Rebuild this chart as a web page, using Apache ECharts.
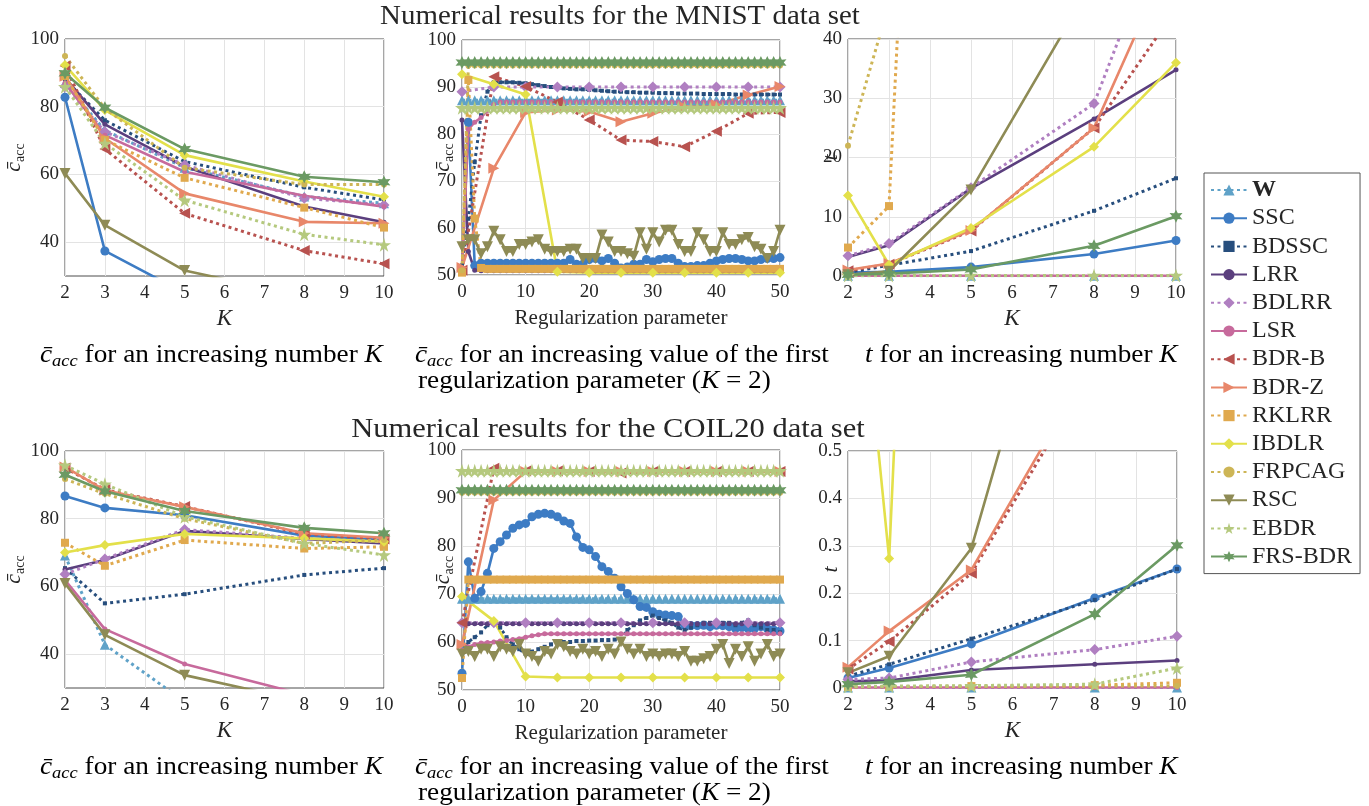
<!DOCTYPE html>
<html>
<head>
<meta charset="utf-8">
<title>Numerical results for the MNIST and COIL20 data sets</title>
<script src="https://cdn.jsdelivr.net/npm/echarts@6/dist/echarts.min.js"></script>
<style>
  html, body { margin: 0; padding: 0; background: #fff; }
  #chart { width: 1369px; height: 806px; }
</style>
</head>
<body>
<div id="chart"></div>
<script>
// methods, in legend order
const methods = ['W', 'SSC', 'BDSSC', 'LRR', 'BDLRR', 'LSR', 'BDR-B', 'BDR-Z',
  'RKLRR', 'IBDLR', 'FRPCAG', 'RSC', 'EBDR', 'FRS-BDR'];

// x values
const kValues = [2, 3, 5, 8, 10];
const paramAll = [0, 1, 2, 3, 4, 5, 6, 7, 8, 9, 10, 11, 12, 13, 14, 15, 16, 17, 18, 19,
  20, 21, 22, 23, 24, 25, 26, 27, 28, 29, 30, 31, 32, 33, 34, 35, 36, 37, 38, 39,
  40, 41, 42, 43, 44, 45, 46, 47, 48, 49, 50];
const paramStep5 = [0, 5, 10, 15, 20, 25, 30, 35, 40, 45, 50];

// tick labels shown on the accuracy-vs-K panels
const accTicks = [40, 60, 80, 100];

// MNIST, accuracy vs K (one row per method)
const mnistAccK = [
  [87, 73, 62, 53.5, 51.5],
  [82.8, 37.4, 25, 20, 18],
  [88, 76, 63.8, 56.2, 52.5],
  [88.5, 74.8, 62.3, 50.5, 45.9],
  [86, 72.6, 62.8, 53, 51],
  [87, 71.6, 60.8, 53.7, 50.5],
  [92, 67.5, 48.5, 37.5, 33.6],
  [89, 70.7, 54.4, 46, 45.6],
  [89, 70.2, 59, 50.2, 44.3],
  [92.3, 79, 65.7, 57.9, 53.4],
  [95, 79.5, 62, 57, 57],
  [60.3, 45, 31.6, 24, 21],
  [85.9, 69.2, 52.4, 42.3, 39.2],
  [89.9, 79.7, 67.5, 59.3, 57.7]
];

// MNIST, accuracy vs regularization parameter (51 values -> every integer, 11 -> steps of 5)
const mnistAccParam = [
  [87.2, 87.2, 87.2, 87.2, 87.2, 87.2, 87.2, 87.2, 87.2, 87.2,
   87.2, 87.2, 87.2, 87.2, 87.2, 87.2, 87.2, 87.2, 87.2, 87.2,
   87.2, 87.2, 87.2, 87.2, 87.2, 87.2, 87.2, 87.2, 87.2, 87.2,
   87.2, 87.2, 87.2, 87.2, 87.2, 87.2, 87.2, 87.2, 87.2, 87.2,
   87.2, 87.2, 87.2, 87.2, 87.2, 87.2, 87.2, 87.2, 87.2, 87.2, 87.2],
  [51, 82.5, 52, 52.5, 52.5, 52.5, 52.5, 52.5, 52.5, 52.5,
   52.5, 52.5, 52.5, 52.5, 52.5, 52.5, 52.5, 53.3, 52.3, 52.3,
   53.3, 53.5, 53, 53.5, 52.5, 51.5, 51.7, 52.3, 52.3, 53.3,
   52.8, 53.3, 53.5, 53.5, 52.5, 51.8, 51.8, 52, 52, 52.5,
   53, 53.3, 53.5, 53.5, 53.3, 53, 53, 53.3, 53.5, 53.5, 53.7],
  [52, 62, 74, 84, 89, 91, 91, 91, 91, 90.9,
   90.8, 90.6, 90.4, 90.2, 90, 89.8, 89.7, 89.6, 89.5, 89.5,
   89.4, 89.3, 89.2, 89.1, 89, 89, 88.9, 88.9, 88.8, 88.8,
   88.8, 88.7, 88.7, 88.7, 88.6, 88.6, 88.6, 88.6, 88.5, 88.5,
   88.5, 88.5, 88.5, 88.4, 88.4, 88.4, 88.4, 88.4, 88.4, 88.4, 88.4],
  [83, 55, 51, 50.9, 50.9, 50.9, 50.9, 50.9, 50.9, 50.9,
   50.9, 50.9, 50.9, 50.9, 50.9, 50.9, 50.9, 50.9, 50.9, 50.9,
   50.9, 50.9, 50.9, 50.9, 50.9, 50.9, 50.9, 50.9, 50.9, 50.9,
   50.9, 50.9, 50.9, 50.9, 50.9, 50.9, 50.9, 50.9, 50.9, 50.9,
   50.9, 50.9, 50.9, 50.9, 50.9, 50.9, 50.9, 50.9, 50.9, 50.9, 50.9],
  [89, 90, 90, 90, 90, 90, 90, 90, 90, 90, 90],
  [51, 81, 82.5, 83.5, 85, 86.3, 86.8, 86.8, 86.8, 86.8,
   86.8, 86.8, 86.8, 86.8, 86.8, 86.8, 86.8, 86.8, 86.8, 86.8,
   86.8, 86.8, 86.8, 86.8, 86.8, 86.8, 86.8, 86.8, 86.8, 86.8,
   86.8, 86.8, 86.8, 86.8, 86.8, 86.8, 86.8, 86.8, 86.8, 86.8,
   86.8, 86.8, 86.8, 86.8, 86.8, 86.8, 86.8, 86.8, 86.8, 86.8, 86.8],
  [51, 92.2, 90.1, 86.8, 83, 78.7, 78.4, 77.3, 80.6, 84.4, 84.6],
  [51.6, 72.7, 84.6, 85.1, 84.8, 82.6, 84.4, 85.8, 86.2, 88.3, 90.1],
  [50.5, 91.5, 62, 51.5, 51.3, 51.3, 51.3, 51.3, 51.3, 51.3,
   51.3, 51.3, 51.3, 51.3, 51.3, 51.3, 51.3, 51.3, 51.3, 51.3,
   51.3, 51.3, 51.3, 51.3, 51.3, 51.3, 51.3, 51.3, 51.3, 51.3,
   51.3, 51.3, 51.3, 51.3, 51.3, 51.3, 51.3, 51.3, 51.3, 51.3,
   51.3, 51.3, 51.3, 51.3, 51.3, 51.3, 51.3, 51.3, 51.3, 51.3, 51.3],
  [92.7, 90.6, 88.4, 50.7, 50.5, 50.5, 50.5, 50.5, 50.5, 50.5, 50.5],
  [51, 94.6, 94.6, 94.6, 94.6, 94.6, 94.6, 94.6, 94.6, 94.6,
   94.6, 94.6, 94.6, 94.6, 94.6, 94.6, 94.6, 94.6, 94.6, 94.6,
   94.6, 94.6, 94.6, 94.6, 94.6, 94.6, 94.6, 94.6, 94.6, 94.6,
   94.6, 94.6, 94.6, 94.6, 94.6, 94.6, 94.6, 94.6, 94.6, 94.6,
   94.6, 94.6, 94.6, 94.6, 94.6, 94.6, 94.6, 94.6, 94.6, 94.6, 94.6],
  [56, 57.5, 57.5, 54.5, 56, 59.3, 57.5, 55, 55, 56.5,
   56.5, 57, 57.5, 55.5, 55, 55, 55, 55.5, 55.5, 53.5,
   53.5, 53.5, 58.5, 57, 55, 55, 54.5, 54, 59, 55.5,
   59, 57, 59.5, 59.5, 56.5, 55, 55, 59, 57.5, 55,
   55, 59, 56.5, 56.5, 57.5, 58, 56, 55.5, 53.5, 55, 59.5],
  [85.6, 85.6, 85.6, 85.6, 85.6, 85.6, 85.6, 85.6, 85.6, 85.6,
   85.6, 85.6, 85.6, 85.6, 85.6, 85.6, 85.6, 85.6, 85.6, 85.6,
   85.6, 85.6, 85.6, 85.6, 85.6, 85.6, 85.6, 85.6, 85.6, 85.6,
   85.6, 85.6, 85.6, 85.6, 85.6, 85.6, 85.6, 85.6, 85.6, 85.6,
   85.6, 85.6, 85.6, 85.6, 85.6, 85.6, 85.6, 85.6, 85.6, 85.6, 85.6],
  [95.2, 95.2, 95.2, 95.2, 95.2, 95.2, 95.2, 95.2, 95.2, 95.2,
   95.2, 95.2, 95.2, 95.2, 95.2, 95.2, 95.2, 95.2, 95.2, 95.2,
   95.2, 95.2, 95.2, 95.2, 95.2, 95.2, 95.2, 95.2, 95.2, 95.2,
   95.2, 95.2, 95.2, 95.2, 95.2, 95.2, 95.2, 95.2, 95.2, 95.2,
   95.2, 95.2, 95.2, 95.2, 95.2, 95.2, 95.2, 95.2, 95.2, 95.2, 95.2]
];

// MNIST, time vs K
const mnistTimeK = [
  [0.05, 0.05, 0.05, 0.05, 0.05],
  [0.6, 0.7, 1.5, 3.7, 6],
  [0.6, 1.8, 4.2, 11, 16.5],
  [3.2, 5.2, 14.8, 26.5, 34.8],
  [3.4, 5.5, 14.9, 29.1, 65],
  [0.05, 0.05, 0.05, 0.05, 0.05],
  [0.9, 2, 7.6, 25, 45],
  [1, 2.1, 7.7, 25, 56],
  [4.8, 11.8, 290, 1000, 2000],
  [13.6, 1.9, 8.1, 21.8, 36],
  [22, 46, 200, 800, 1500],
  [0.2, 0.8, 14.5, 50, 90],
  [0.1, 0.1, 0.1, 0.1, 0.1],
  [0.2, 0.4, 1.1, 5.1, 10.1]
];

// COIL20, accuracy vs K
const coilAccK = [
  [69.1, 42.8, 26, 20, 18],
  [86.7, 83.2, 81, 75, 73.7],
  [65.4, 55, 57.7, 63.4, 65.4],
  [65, 67.8, 76.4, 74, 72.7],
  [63.6, 68.1, 76.8, 74.2, 73.2],
  [61.9, 47.4, 37.1, 28, 24],
  [95, 88.6, 83.6, 75.5, 74],
  [95.3, 88.4, 83.5, 75.7, 74.4],
  [72.9, 66.1, 73.7, 71.2, 71.7],
  [70, 72.2, 75.5, 74.2, 73.2],
  [91.7, 87.4, 80, 72.7, 73.7],
  [60.9, 45.7, 33.8, 26, 23],
  [95.8, 90.2, 80.6, 72.7, 69.3],
  [93, 88.1, 82.3, 77.3, 75.7]
];

// COIL20, accuracy vs regularization parameter
const coilAccParam = [
  [69, 69, 69, 69, 69, 69, 69, 69, 69, 69,
   69, 69, 69, 69, 69, 69, 69, 69, 69, 69,
   69, 69, 69, 69, 69, 69, 69, 69, 69, 69,
   69, 69, 69, 69, 69, 69, 69, 69, 69, 69,
   69, 69, 69, 69, 69, 69, 69, 69, 69, 69, 69],
  [53.5, 76.7, 69.1, 70.5, 74.3, 79.5, 80.9, 82.3, 83.7, 84.4,
   84.7, 86.1, 86.6, 86.8, 86.6, 86.1, 85.2, 84.7, 81.9, 79.7,
   79.2, 77.8, 75.7, 74.7, 73.3, 71.5, 70.1, 68.8, 67.4, 67.2,
   66.3, 65.8, 65.6, 65.5, 65.3, 63.5, 63.4, 63.4, 63.5, 63.2,
   63.5, 63.4, 63.2, 62.8, 63, 62.8, 62.8, 63.2, 62.8, 62.5, 62.3],
  [58, 60, 61, 62, 63.5, 64.5, 63, 61, 59.5, 58.5,
   57.5, 58, 58.5, 59, 59.5, 60, 60, 60, 60.2, 60.2,
   60.3, 60.3, 60.4, 60.4, 60.5, 60.5, 62.5, 63.5, 64.5, 65,
   65.5, 65, 64.5, 64, 63, 62.5, 63, 63.5, 64, 64,
   64, 64, 64, 63.5, 64, 64.5, 63.5, 63, 62.5, 62.5, 62],
  [63.8, 63.8, 63.8, 63.8, 63.8, 63.8, 63.8, 63.8, 63.8, 63.8,
   63.8, 63.8, 63.8, 63.8, 63.8, 63.8, 63.8, 63.8, 63.8, 63.8,
   63.8, 63.8, 63.8, 63.8, 63.8, 63.8, 63.8, 63.8, 63.8, 63.8,
   63.8, 63.8, 63.8, 63.8, 63.8, 63.8, 63.8, 63.8, 63.8, 63.8,
   63.8, 63.8, 63.8, 63.8, 63.8, 63.8, 63.8, 63.8, 63.8, 63.8, 63.8],
  [64, 64, 64, 64, 64, 64, 64, 64, 64, 64, 64],
  [58.3, 59, 59.5, 59.8, 59.9, 60, 60.2, 60.3, 60.5, 60.7,
   61, 61.3, 61.5, 61.7, 61.7, 61.7, 61.7, 61.7, 61.7, 61.7,
   61.7, 61.7, 61.7, 61.7, 61.7, 61.7, 61.7, 61.7, 61.7, 61.7,
   61.7, 61.7, 61.7, 61.7, 61.7, 61.7, 61.7, 61.7, 61.7, 61.7,
   61.7, 61.7, 61.7, 61.7, 61.7, 61.7, 61.7, 61.7, 61.7, 61.7, 61.7],
  [64, 96.2, 95.6, 95.6, 95.5, 95.2, 95.5, 95.5, 95.5, 95.5, 95.5],
  [59.5, 89.6, 95.5, 95.5, 95.5, 95.5, 95.5, 95.5, 95.5, 95.5, 95.5],
  [52.5, 73, 73, 73, 73, 73, 73, 73, 73, 73,
   73, 73, 73, 73, 73, 73, 73, 73, 73, 73,
   73, 73, 73, 73, 73, 73, 73, 73, 73, 73,
   73, 73, 73, 73, 73, 73, 73, 73, 73, 73,
   73, 73, 73, 73, 73, 73, 73, 73, 73, 73, 73],
  [69.5, 64.4, 52.8, 52.6, 52.6, 52.6, 52.6, 52.6, 52.6, 52.6, 52.6],
  [91.1, 91.1, 91.1, 91.1, 91.1, 91.1, 91.1, 91.1, 91.1, 91.1,
   91.1, 91.1, 91.1, 91.1, 91.1, 91.1, 91.1, 91.1, 91.1, 91.1,
   91.1, 91.1, 91.1, 91.1, 91.1, 91.1, 91.1, 91.1, 91.1, 91.1,
   91.1, 91.1, 91.1, 91.1, 91.1, 91.1, 91.1, 91.1, 91.1, 91.1,
   91.1, 91.1, 91.1, 91.1, 91.1, 91.1, 91.1, 91.1, 91.1, 91.1, 91.1],
  [57.5, 58, 57, 58.5, 58.5, 57, 59, 58.5, 58, 59.5,
   57.5, 57, 56, 58, 57.5, 59.5, 59, 58, 57.5, 58.5,
   57.5, 58, 57, 58.5, 57.5, 60, 58.5, 57.5, 58.5, 57,
   57.5, 57, 57.5, 57.5, 57, 58, 56, 56, 56.5, 57,
   58.5, 59.5, 55.5, 58.5, 57, 59, 56, 57.5, 59.5, 57, 57.5],
  [95.7, 95.7, 95.7, 95.7, 95.7, 95.7, 95.7, 95.7, 95.7, 95.7,
   95.7, 95.7, 95.7, 95.7, 95.7, 95.7, 95.7, 95.7, 95.7, 95.7,
   95.7, 95.7, 95.7, 95.7, 95.7, 95.7, 95.7, 95.7, 95.7, 95.7,
   95.7, 95.7, 95.7, 95.7, 95.7, 95.7, 95.7, 95.7, 95.7, 95.7,
   95.7, 95.7, 95.7, 95.7, 95.7, 95.7, 95.7, 95.7, 95.7, 95.7, 95.7],
  [91.6, 91.6, 91.6, 91.6, 91.6, 91.6, 91.6, 91.6, 91.6, 91.6,
   91.6, 91.6, 91.6, 91.6, 91.6, 91.6, 91.6, 91.6, 91.6, 91.6,
   91.6, 91.6, 91.6, 91.6, 91.6, 91.6, 91.6, 91.6, 91.6, 91.6,
   91.6, 91.6, 91.6, 91.6, 91.6, 91.6, 91.6, 91.6, 91.6, 91.6,
   91.6, 91.6, 91.6, 91.6, 91.6, 91.6, 91.6, 91.6, 91.6, 91.6, 91.6]
];

// COIL20, time vs K
const coilTimeK = [
  [0.001, 0.001, 0.001, 0.001, 0.001],
  [0.021, 0.042, 0.093, 0.19, 0.251],
  [0.025, 0.05, 0.104, 0.186, 0.251],
  [0.014, 0.016, 0.038, 0.05, 0.058],
  [0.018, 0.021, 0.055, 0.081, 0.109],
  [0.001, 0.001, 0.001, 0.001, 0.001],
  [0.04, 0.098, 0.242, 0.68, 1.05],
  [0.044, 0.12, 0.249, 0.7, 1.1],
  [0.002, 0.003, 0.004, 0.006, 0.011],
  [1.15, 0.273, 4.1, 15, 30],
  [0.003, 0.003, 0.003, 0.004, 0.004],
  [0.032, 0.067, 0.295, 1.2, 2],
  [0.003, 0.004, 0.005, 0.008, 0.042],
  [0.008, 0.013, 0.028, 0.156, 0.301]
];

// ---- styles ----
const FONT = "'Liberation Serif', 'DejaVu Serif', serif";
const INK = '#262626';
const GRID_COLOR = '#e3e3e3';

const colors = ['#5fa2c8', '#3d7cc4', '#274e7d', '#5b3f7e', '#b07fc1', '#c76a9c', '#b8524f',
  '#e8876a', '#e0a94e', '#e3e04a', '#cdb556', '#8e8b55', '#b5c97e', '#6b9a63'];
const dotted = [true, false, true, false, true, false, true, false, true, false, true, false, true, false];
const STAR5 = 'path://M50,0 L61,35 L98,35 L68,57 L79,91 L50,70 L21,91 L32,57 L2,35 L39,35 Z';
const STAR6 = 'path://M50,0 L62,28 L93,25 L75,50 L93,75 L62,72 L50,100 L38,72 L7,75 L25,50 L7,25 L38,28 Z';
const symbols = ['triangle', 'circle', 'rect', 'circle', 'diamond', 'circle', 'triangle', 'triangle',
  'rect', 'diamond', 'circle', 'triangle', STAR5, STAR6];
const symbolRotate = [0, 0, 0, 0, 0, 0, 90, -90, 0, 0, 0, 180, 0, 0];
const symbolSize = [10, 9, 4, 5, 11, 5, 11, 11, 8, 10, 6, 11, 14, 13];

const grids = [
  { left: 65, top: 39, width: 319, height: 237 },
  { left: 462, top: 40, width: 318, height: 235 },
  { left: 848, top: 39, width: 328, height: 237 },
  { left: 65, top: 451, width: 319, height: 237 },
  { left: 462, top: 450, width: 318, height: 240 },
  { left: 848, top: 451, width: 329, height: 237 }
];

const panels = [
  { rows: mnistAccK, kind: 'accK' },
  { rows: mnistAccParam, kind: 'param' },
  { rows: mnistTimeK, kind: 'timeM' },
  { rows: coilAccK, kind: 'accK' },
  { rows: coilAccParam, kind: 'param' },
  { rows: coilTimeK, kind: 'timeC' }
];

const labelStyle = { fontFamily: FONT, fontSize: 19, color: INK };
const accName = {
  name: '{c|c\u0304}{s|acc}',
  nameTextStyle: {
    rich: {
      c: { fontFamily: FONT, fontSize: 22, fontStyle: 'italic', color: INK },
      s: { fontFamily: FONT, fontSize: 14, color: INK, padding: [12, 0, 0, 0] }
    }
  }
};
const timeName = {
  name: 't',
  nameTextStyle: { fontFamily: FONT, fontSize: 22, fontStyle: 'italic', color: INK }
};

const xAxes = panels.map((p, gi) => {
  const isK = p.kind !== 'param';
  return {
    gridIndex: gi,
    type: 'value',
    min: isK ? 2 : 0,
    max: isK ? 10 : 50,
    interval: isK ? 1 : 10,
    name: isK ? 'K' : 'Regularization parameter',
    nameLocation: 'middle',
    nameGap: isK ? 31 : 33,
    nameTextStyle: {
      fontFamily: FONT, fontSize: isK ? 23 : 21, color: INK,
      fontStyle: isK ? 'italic' : 'normal'
    },
    axisLine: { show: false },
    axisTick: { show: false },
    axisLabel: Object.assign({ margin: 8 }, labelStyle),
    splitLine: { lineStyle: { color: GRID_COLOR } }
  };
});

const yAxes = panels.map((p, gi) => {
  const ax = {
    gridIndex: gi,
    type: 'value',
    nameLocation: 'middle',
    nameRotate: 90,
    nameMoveOverlap: false,
    axisLine: { show: false },
    axisTick: { show: false },
    axisLabel: Object.assign({ margin: 6 }, labelStyle),
    splitLine: { lineStyle: { color: GRID_COLOR } }
  };
  if (p.kind === 'accK') {
    Object.assign(ax, accName, { min: 30, max: 100, interval: 10, nameGap: 38 });
    ax.axisLabel.formatter = v => (accTicks.includes(v) ? String(v) : '');
    ax.splitLine = { lineStyle: { color: ['rgba(0,0,0,0)', GRID_COLOR] } };
  } else if (p.kind === 'param') {
    Object.assign(ax, accName, { min: 50, max: 100, interval: 10, nameGap: 6 });
  } else if (p.kind === 'timeM') {
    Object.assign(ax, timeName, { min: 0, max: 40, interval: 10, nameGap: 6 });
  } else {
    Object.assign(ax, timeName, { min: 0, max: 0.5, interval: 0.1, nameGap: 6 });
  }
  return ax;
});

const series = [];
panels.forEach((p, gi) => {
  p.rows.forEach((vals, mi) => {
    let xs = kValues;
    if (p.kind === 'param') xs = vals.length === paramAll.length ? paramAll : paramStep5;
    series.push({
      name: methods[mi],
      type: 'line',
      xAxisIndex: gi,
      yAxisIndex: gi,
      data: vals.map((v, i) => [xs[i], v]),
      color: colors[mi],
      symbol: symbols[mi],
      symbolRotate: symbolRotate[mi],
      symbolSize: symbolSize[mi],
      showAllSymbol: true,
      clip: true,
      lineStyle: {
        width: dotted[mi] ? 3 : 2.6,
        type: dotted[mi] ? [3, 3.5] : 'solid'
      },
      itemStyle: { color: colors[mi] },
      emphasis: { disabled: true },
      animation: false
    });
  });
});

// titles and panel captions
const capRich = {
  i: { fontFamily: FONT, fontSize: 25, fontStyle: 'italic', color: INK },
  s: { fontFamily: FONT, fontSize: 17, fontStyle: 'italic', color: INK, padding: [13, 0, 0, 0] },
  n: { fontFamily: FONT, fontSize: 25, color: INK }
};
function caption(x, y, text) {
  return {
    type: 'text', x: x, y: y, scaleX: 1.09,
    style: { text: text, rich: capRich, align: 'left', verticalAlign: 'middle' }
  };
}
function heading(x, y, text, sx) {
  return {
    type: 'text', x: x, y: y, scaleX: sx,
    style: { text: text, fontFamily: FONT, fontSize: 27, fill: INK, align: 'center', verticalAlign: 'middle' }
  };
}
const accCap = '{i|c\u0304}{s|acc}{n| for an increasing number }{i|K}';
const paramCap1 = '{i|c\u0304}{s|acc}{n| for an increasing value of the first}';
const paramCap2 = '{n|regularization parameter (}{i|K}{n| = 2)}';
const timeCap = '{i|t}{n| for an increasing number }{i|K}';

const graphics = [
  heading(620, 17, 'Numerical results for the MNIST data set', 1.07),
  heading(608, 430, 'Numerical results for the COIL20 data set', 1.13),
  caption(40, 355, accCap), caption(415, 355, paramCap1), caption(418, 381, paramCap2),
  caption(865, 355, timeCap),
  caption(40, 767, accCap), caption(415, 767, paramCap1), caption(418, 793, paramCap2),
  caption(865, 767, timeCap)
];

const chart = echarts.init(document.getElementById('chart'));
chart.setOption({
  backgroundColor: '#fff',
  animation: false,
  grid: grids.map(g => Object.assign({ show: true, borderColor: '#4d4d4d', borderWidth: 1 }, g)),
  xAxis: xAxes,
  yAxis: yAxes,
  legend: {
    data: methods,
    orient: 'vertical',
    left: 1204,
    top: 173,
    itemWidth: 36,
    itemHeight: 14,
    itemGap: 4.2,
    padding: [5, 8, 5, 6],
    borderColor: '#555',
    borderWidth: 1,
    backgroundColor: '#fff',
    selectedMode: false,
    formatter: name => (name === 'W' ? '{b|W}' : name),
    textStyle: {
      fontFamily: FONT, fontSize: 24, color: INK, lineHeight: 20,
      rich: { b: { fontFamily: FONT, fontSize: 24, fontWeight: 'bold', color: INK, lineHeight: 20 } }
    }
  },
  graphic: { elements: graphics },
  series: series
});
</script>
</body>
</html>
